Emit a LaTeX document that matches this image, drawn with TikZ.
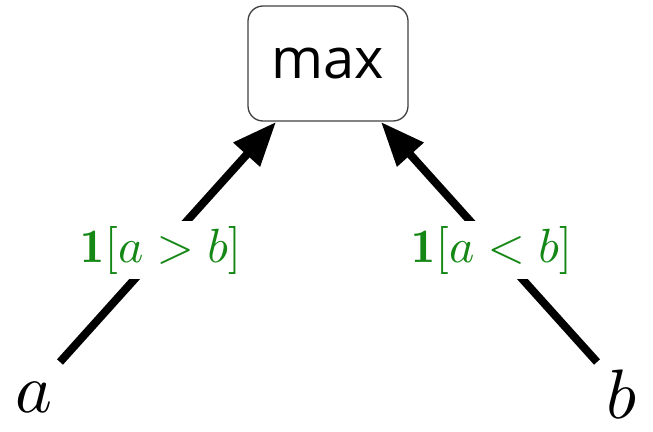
\documentclass[tikz,border=0pt]{standalone}
\usepackage{fontspec}
\newfontfamily\maxfont{Open Sans}
\usetikzlibrary{arrows.meta}
\definecolor{lblgreen}{RGB}{20,135,20}
\begin{document}
\begin{tikzpicture}[x=1pt,y=-1pt,
  boxst/.style={draw=black!75,line width=1.3pt,rounded corners=15pt,minimum width=160pt,minimum height=115pt,inner sep=0pt,font=\maxfont\fontsize{56}{60}\selectfont},
  varst/.style={inner sep=0pt,scale=7},
  edgest/.style={line width=8pt,-{Triangle[length=44pt,width=34pt]}},
  lblst/.style={fill=white,inner sep=1pt,text=lblgreen,scale=4.8}]
\useasboundingbox (0,0) rectangle (653,431);
\node[boxst] (max) at (328,63.5) {max};
\node[varst] (a) at (34,397) {$a$};
\node[varst] (b) at (622,394) {$b$};
\coordinate (la) at (60,362);
\coordinate (lb) at (597,362);
\coordinate (ta) at (276,122);
\coordinate (tb) at (381,122);
\draw[edgest] (la) -- (ta);
\draw[edgest] (lb) -- (tb);
\node[lblst] (l1) at (161,250) {$\mathbf{1}[a>b]$};
\node[lblst] (l2) at (492,250) {$\mathbf{1}[a<b]$};
\end{tikzpicture}
\end{document}
